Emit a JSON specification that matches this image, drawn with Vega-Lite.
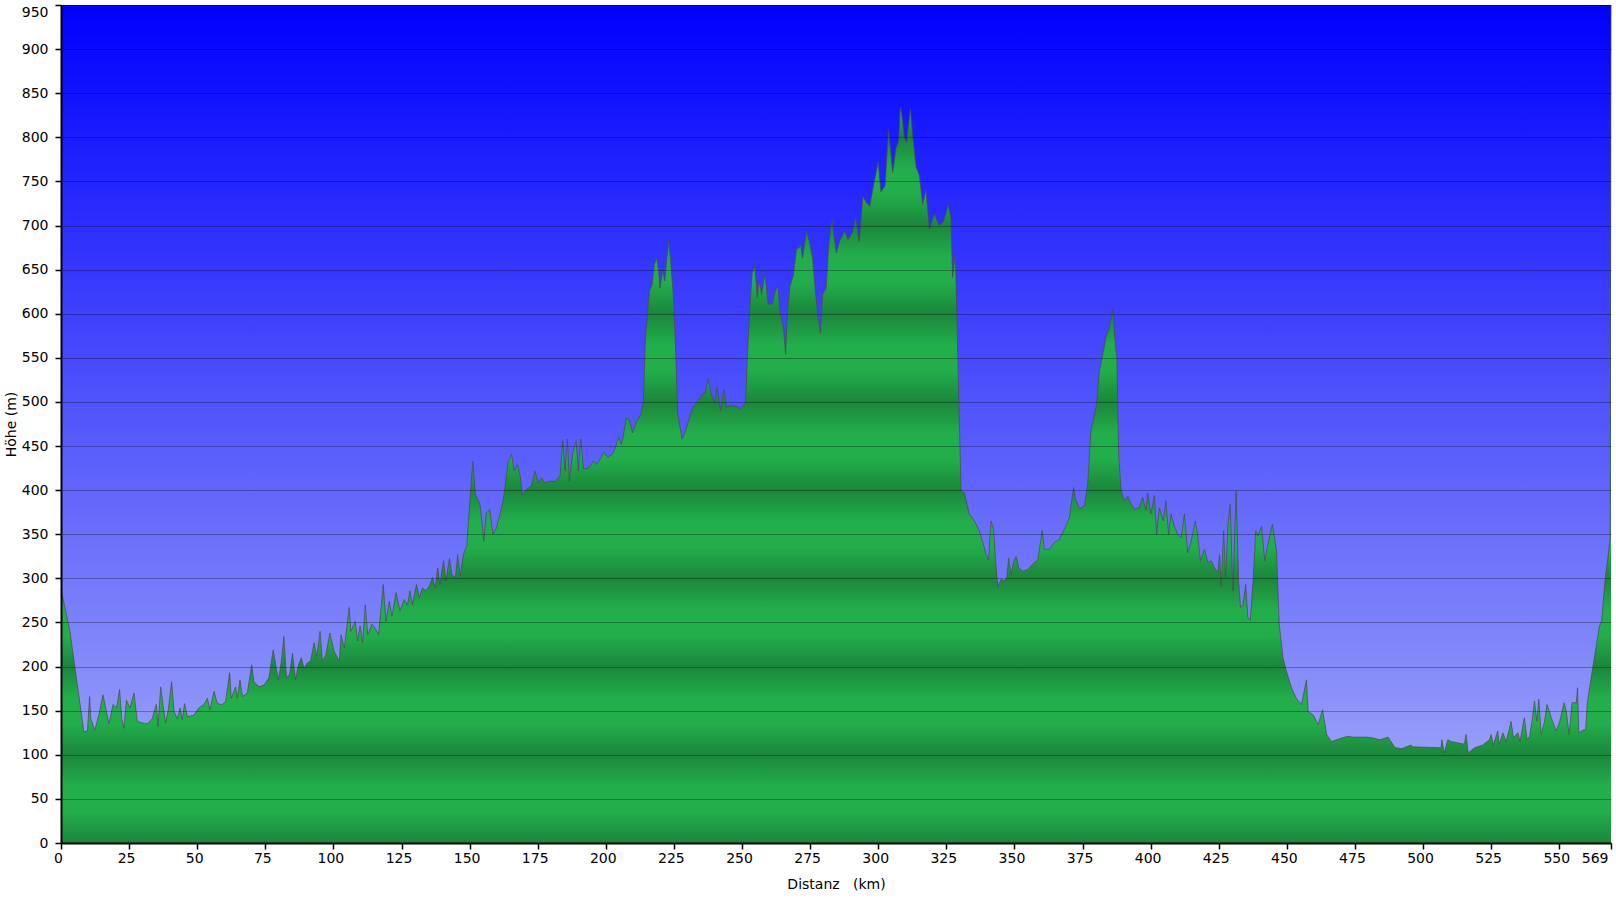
{
  "$schema": "https://vega.github.io/schema/vega-lite/v6.json",
  "width": 1550,
  "height": 838,
  "autosize": {"type": "none"},
  "padding": {"left": 61, "top": 5, "right": 5, "bottom": 60},
  "background": "white",
  "config": {
    "font": "DejaVu Sans",
    "view": {
      "stroke": null,
      "fill": {"gradient": "linear", "x1": 0, "y1": 0, "x2": 0, "y2": 1,
        "stops": [{"offset": 0, "color": "#0000ff"}, {"offset": 1, "color": "#a8b0f8"}]}
    }
  },
  "data": {"values": [
    {"km":0,"h":288},{"km":3.3,"h":240},{"km":4.8,"h":206},{"km":8.4,"h":126},{"km":9.7,"h":127},{"km":10.5,"h":166},{"km":10.9,"h":141},{"km":12.4,"h":128},{"km":13.9,"h":145},{"km":15.4,"h":168},{"km":16.4,"h":153},{"km":17.6,"h":135},{"km":19.1,"h":157},{"km":20.4,"h":153},{"km":21.5,"h":174},{"km":22.3,"h":141},{"km":23.1,"h":130},{"km":24,"h":162},{"km":25.3,"h":153},{"km":26.8,"h":170},{"km":28,"h":138},{"km":29.8,"h":136},{"km":31.7,"h":135},{"km":33.5,"h":141},{"km":35,"h":157},{"km":35.6,"h":132},{"km":36.6,"h":177},{"km":37.6,"h":153},{"km":38.4,"h":136},{"km":39.4,"h":151},{"km":40.6,"h":183},{"km":41.5,"h":149},{"km":42.7,"h":141},{"km":43.7,"h":153},{"km":44.5,"h":140},{"km":45.4,"h":158},{"km":46.4,"h":143},{"km":48.8,"h":145},{"km":50.6,"h":153},{"km":52.5,"h":157},{"km":53.7,"h":164},{"km":54.7,"h":151},{"km":56.2,"h":172},{"km":57.4,"h":158},{"km":59.2,"h":157},{"km":60.4,"h":160},{"km":61.9,"h":193},{"km":62.5,"h":164},{"km":64.1,"h":177},{"km":64.7,"h":164},{"km":65.7,"h":185},{"km":66.6,"h":166},{"km":68.4,"h":170},{"km":70,"h":202},{"km":70.8,"h":183},{"km":72.7,"h":177},{"km":74.5,"h":179},{"km":76.3,"h":187},{"km":77.9,"h":219},{"km":78.8,"h":202},{"km":79.8,"h":185},{"km":80.9,"h":206},{"km":81.8,"h":234},{"km":82.8,"h":187},{"km":83.9,"h":191},{"km":85,"h":215},{"km":86.1,"h":185},{"km":87,"h":200},{"km":88.2,"h":210},{"km":89.2,"h":198},{"km":90.4,"h":204},{"km":91.6,"h":206},{"km":92.9,"h":227},{"km":93.9,"h":211},{"km":95.1,"h":240},{"km":96,"h":206},{"km":97.2,"h":213},{"km":98.7,"h":238},
    {"km":100.3,"h":217},{"km":102.2,"h":206},{"km":102.8,"h":236},{"km":104,"h":221},{"km":105.8,"h":267},{"km":106.4,"h":240},{"km":108,"h":251},{"km":108.9,"h":229},{"km":109.8,"h":246},{"km":110.7,"h":227},{"km":111.7,"h":270},{"km":112.6,"h":236},{"km":114.2,"h":248},{"km":115.6,"h":242},{"km":116.6,"h":236},{"km":117.5,"h":267},{"km":118.3,"h":293},{"km":119.3,"h":251},{"km":120.5,"h":274},{"km":121.5,"h":257},{"km":123,"h":284},{"km":124.4,"h":263},{"km":126,"h":276},{"km":127.2,"h":270},{"km":128.1,"h":286},{"km":129,"h":270},{"km":130.5,"h":293},{"km":131.5,"h":278},{"km":132.7,"h":289},{"km":133.9,"h":286},{"km":135.2,"h":291},{"km":136.4,"h":301},{"km":137.4,"h":289},{"km":138.3,"h":312},{"km":139.1,"h":293},{"km":140.4,"h":320},{"km":141.3,"h":297},{"km":142.6,"h":323},{"km":143.5,"h":304},{"km":144.8,"h":301},{"km":145.6,"h":327},{"km":146.6,"h":303},{"km":147.7,"h":327},{"km":149,"h":337},{"km":150,"h":384},{"km":151.2,"h":433},{"km":152.1,"h":395},{"km":153.1,"h":389},{"km":153.9,"h":382},{"km":155.2,"h":342},{"km":156.1,"h":374},{"km":157.4,"h":378},{"km":158.6,"h":350},{"km":159.8,"h":357},{"km":161.1,"h":372},{"km":162.3,"h":388},{"km":162.9,"h":401},{"km":164.1,"h":431},{"km":165.4,"h":441},{"km":166.4,"h":422},{"km":167.5,"h":429},{"km":168.5,"h":418},{"km":169.4,"h":395},{"km":170.9,"h":401},{"km":172.7,"h":405},{"km":174,"h":422},{"km":175.2,"h":408},{"km":176.4,"h":414},{"km":177.7,"h":408},{"km":179.5,"h":410},{"km":181.3,"h":410},{"km":183.2,"h":416},{"km":184.2,"h":456},{"km":185,"h":422},{"km":185.9,"h":458},{"km":186.6,"h":410},{"km":187.8,"h":441},{"km":189.1,"h":456},{"km":189.9,"h":422},{"km":190.8,"h":458},{"km":191.8,"h":424},{"km":193.7,"h":425},{"km":195.5,"h":433},{"km":196.7,"h":429},
    {"km":199.4,"h":443},{"km":200.7,"h":437},{"km":202.5,"h":441},{"km":203.7,"h":450},{"km":204.7,"h":460},{"km":205.6,"h":452},{"km":206.4,"h":460},{"km":207.4,"h":482},{"km":208.6,"h":480},{"km":209.8,"h":465},{"km":211.3,"h":478},{"km":212.9,"h":486},{"km":213.8,"h":501},{"km":214.5,"h":569},{"km":215.4,"h":603},{"km":216,"h":626},{"km":217,"h":633},{"km":217.8,"h":656},{"km":218.7,"h":663},{"km":219.4,"h":648},{"km":219.9,"h":629},{"km":220.9,"h":650},{"km":221.6,"h":637},{"km":223.1,"h":684},{"km":224,"h":652},{"km":224.8,"h":620},{"km":225.6,"h":561},{"km":226.4,"h":486},{"km":228,"h":458},{"km":229.3,"h":467},{"km":230.5,"h":480},{"km":232,"h":494},{"km":233.8,"h":501},{"km":235.7,"h":509},{"km":236.7,"h":511},{"km":237.5,"h":526},{"km":238.7,"h":509},{"km":240,"h":499},{"km":240.8,"h":516},{"km":242.1,"h":490},{"km":243.3,"h":514},{"km":244.3,"h":494},{"km":246.1,"h":496},{"km":248,"h":495},{"km":249.4,"h":492},{"km":251.3,"h":499},{"km":251.9,"h":546},{"km":252.9,"h":607},{"km":253.7,"h":646},{"km":254.7,"h":654},{"km":255.6,"h":618},{"km":256.3,"h":637},{"km":257.2,"h":622},{"km":258.4,"h":645},{"km":259.6,"h":611},{"km":261.2,"h":611},{"km":262.1,"h":624},{"km":263.1,"h":632},{"km":264.1,"h":599},{"km":265.2,"h":584},{"km":266,"h":554},{"km":266.7,"h":603},{"km":267.6,"h":631},{"km":268.8,"h":643},{"km":270,"h":673},{"km":271,"h":675},{"km":271.6,"h":678},{"km":272.2,"h":663},{"km":273.7,"h":694},{"km":274.7,"h":682},{"km":275.9,"h":663},{"km":276.9,"h":626},{"km":277.8,"h":599},{"km":278.8,"h":578},{"km":279.6,"h":622},{"km":280.9,"h":629},{"km":281.9,"h":680},{"km":283,"h":707},{"km":283.7,"h":690},{"km":284.6,"h":669},{"km":285.8,"h":682},{"km":287.7,"h":694},{"km":288.9,"h":684},{"km":290.5,"h":692},{"km":291.7,"h":709},{"km":293,"h":682},{"km":294.4,"h":733},{"km":295.6,"h":726},{"km":296.9,"h":722},
    {"km":298.6,"h":751},{"km":300,"h":772},{"km":301,"h":738},{"km":302.5,"h":745},{"km":303.8,"h":808},{"km":305.3,"h":760},{"km":306.5,"h":787},{"km":307.5,"h":796},{"km":308.1,"h":834},{"km":308.7,"h":825},{"km":309.6,"h":800},{"km":310.4,"h":794},{"km":311.8,"h":832},{"km":312.6,"h":804},{"km":313.9,"h":766},{"km":315.1,"h":757},{"km":316.3,"h":724},{"km":317.5,"h":740},{"km":318.8,"h":696},{"km":320.6,"h":713},{"km":322.4,"h":700},{"km":323.9,"h":704},{"km":325.7,"h":723},{"km":326.7,"h":709},{"km":327.3,"h":641},{"km":328.3,"h":668},{"km":328.8,"h":607},{"km":329.5,"h":513},{"km":330.4,"h":399},{"km":331.6,"h":397},{"km":333.4,"h":373},{"km":335.3,"h":365},{"km":337.1,"h":354},{"km":338.3,"h":342},{"km":339.6,"h":327},{"km":340.5,"h":321},{"km":341.4,"h":365},{"km":342.3,"h":357},{"km":343,"h":323},{"km":343.9,"h":290},{"km":345.1,"h":299},{"km":346.3,"h":297},{"km":347.2,"h":301},{"km":347.9,"h":323},{"km":348.8,"h":304},{"km":349.6,"h":318},{"km":350.6,"h":325},{"km":351.6,"h":312},{"km":353,"h":308},{"km":354.9,"h":310},{"km":356.7,"h":316},{"km":358.6,"h":321},{"km":360.2,"h":354},{"km":361,"h":333},{"km":362.9,"h":333},{"km":364.7,"h":341},{"km":366.5,"h":344},{"km":368.4,"h":356},{"km":370.2,"h":369},{"km":371.7,"h":403},{"km":372.4,"h":390},{"km":373.9,"h":379},{"km":375.7,"h":382},{"km":376.9,"h":407},{"km":378.1,"h":467},{"km":380,"h":494},{"km":381.2,"h":535},{"km":382.2,"h":550},{"km":383.6,"h":573},{"km":384.9,"h":584},{"km":386.1,"h":605},{"km":387.1,"h":562},{"km":387.6,"h":550},{"km":388.3,"h":437},{"km":389.2,"h":399},{"km":390.4,"h":388},{"km":391.6,"h":393},{"km":392.9,"h":384},{"km":394.1,"h":378},
    {"km":395.8,"h":380},{"km":397.1,"h":392},{"km":398.3,"h":377},{"km":398.9,"h":397},{"km":400.1,"h":373},{"km":401.4,"h":394},{"km":402.2,"h":350},{"km":403.2,"h":380},{"km":404.7,"h":365},{"km":405.6,"h":388},{"km":406.6,"h":350},{"km":407.5,"h":373},{"km":408.7,"h":359},{"km":409.9,"h":350},{"km":411.2,"h":346},{"km":412.4,"h":373},{"km":413.6,"h":329},{"km":414.8,"h":341},{"km":416.4,"h":365},{"km":417.3,"h":348},{"km":418.3,"h":320},{"km":419.8,"h":333},{"km":421,"h":318},{"km":422.2,"h":320},{"km":423.5,"h":312},{"km":424.7,"h":306},{"km":425.3,"h":327},{"km":425.9,"h":291},{"km":426.8,"h":354},{"km":427.5,"h":301},{"km":428.4,"h":361},{"km":429.2,"h":384},{"km":430.2,"h":286},{"km":431.4,"h":399},{"km":432.3,"h":297},{"km":433,"h":267},{"km":433.9,"h":270},{"km":434.9,"h":293},{"km":435.7,"h":255},{"km":436.6,"h":253},{"km":437.6,"h":297},{"km":438.6,"h":354},{"km":439.4,"h":348},{"km":440.7,"h":359},{"km":441.9,"h":320},{"km":443.1,"h":339},{"km":444.7,"h":361},{"km":446.2,"h":331},{"km":447.2,"h":248},{"km":448.6,"h":210},{"km":449.8,"h":195},{"km":451.7,"h":176},{"km":453.5,"h":164},{"km":455.4,"h":157},{"km":457.2,"h":185},{"km":457.8,"h":149},{"km":459.7,"h":145},{"km":461.5,"h":134},{"km":463.1,"h":151},{"km":464.6,"h":123},{"km":466.4,"h":115},{"km":468.3,"h":117},{"km":470.1,"h":119},{"km":472.5,"h":121},{"km":474.4,"h":120},{"km":479.3,"h":120},{"km":481.7,"h":119},{"km":484.2,"h":117},{"km":487.2,"h":120},{"km":489.7,"h":108},{"km":492.2,"h":107},
    {"km":495.6,"h":111},{"km":496.2,"h":109},{"km":506.6,"h":108},{"km":506.9,"h":117},{"km":507.8,"h":102},{"km":509.1,"h":117},{"km":510.3,"h":115},{"km":515.2,"h":112},{"km":515.8,"h":123},{"km":516.6,"h":102},{"km":518.9,"h":108},{"km":521.9,"h":111},{"km":524.4,"h":117},{"km":525,"h":123},{"km":525.8,"h":111},{"km":527.4,"h":127},{"km":528,"h":112},{"km":529.3,"h":125},{"km":530.5,"h":115},{"km":531.5,"h":127},{"km":532.3,"h":138},{"km":533.2,"h":119},{"km":534.8,"h":125},{"km":535.6,"h":115},{"km":536.6,"h":132},{"km":537.2,"h":142},{"km":538.2,"h":117},{"km":539.1,"h":121},{"km":540,"h":138},{"km":540.9,"h":161},{"km":541.8,"h":138},{"km":542.5,"h":163},{"km":543.4,"h":123},{"km":544.6,"h":138},{"km":545.5,"h":157},{"km":547.1,"h":142},{"km":548.9,"h":127},{"km":550.2,"h":138},{"km":551.8,"h":159},{"km":552.6,"h":149},{"km":553.6,"h":123},{"km":554.7,"h":159},{"km":556.3,"h":159},{"km":556.7,"h":176},{"km":557.2,"h":125},{"km":558.8,"h":128},{"km":559.7,"h":128},{"km":560.3,"h":159},{"km":561.9,"h":191},{"km":563.7,"h":225},{"km":564.6,"h":244},{"km":565.6,"h":252},{"km":566.8,"h":297},{"km":568,"h":327},{"km":568.7,"h":345},{"km":569,"h":950}
  ]},
  "mark": {
    "type": "area",
    "interpolate": "linear",
    "opacity": 1,
    "fillOpacity": 1,
    "color": {"gradient": "linear", "x1": 0, "y1": 0, "x2": 0, "y2": 1, "stops": [
      {"offset": 0, "color": "#22ae4b"}, {"offset": 0.01579, "color": "#22ae4b"}, {"offset": 0.05263, "color": "#1b863b"},
      {"offset": 0.08947, "color": "#22ae4b"}, {"offset": 0.12105, "color": "#22ae4b"}, {"offset": 0.15789, "color": "#1b863b"},
      {"offset": 0.19474, "color": "#22ae4b"}, {"offset": 0.22632, "color": "#22ae4b"}, {"offset": 0.26316, "color": "#1b863b"},
      {"offset": 0.3, "color": "#22ae4b"}, {"offset": 0.33158, "color": "#22ae4b"}, {"offset": 0.36842, "color": "#1b863b"},
      {"offset": 0.40526, "color": "#22ae4b"}, {"offset": 0.43684, "color": "#22ae4b"}, {"offset": 0.47368, "color": "#1b863b"},
      {"offset": 0.51053, "color": "#22ae4b"}, {"offset": 0.54211, "color": "#22ae4b"}, {"offset": 0.57895, "color": "#1b863b"},
      {"offset": 0.61579, "color": "#22ae4b"}, {"offset": 0.64737, "color": "#22ae4b"}, {"offset": 0.68421, "color": "#1b863b"},
      {"offset": 0.72105, "color": "#22ae4b"}, {"offset": 0.75263, "color": "#22ae4b"}, {"offset": 0.78947, "color": "#1b863b"},
      {"offset": 0.82632, "color": "#22ae4b"}, {"offset": 0.85789, "color": "#22ae4b"}, {"offset": 0.89474, "color": "#1b863b"},
      {"offset": 0.93158, "color": "#22ae4b"}, {"offset": 0.96316, "color": "#22ae4b"}, {"offset": 1, "color": "#1b863b"}
    ]},
    "line": {"color": "#4a4a4a", "strokeWidth": 1, "strokeOpacity": 0.7}
  },
  "encoding": {
    "x": {
      "field": "km", "type": "quantitative",
      "scale": {"domain": [0, 569], "nice": false, "zero": false},
      "title": "Distanz \u00a0 (km)",
      "axis": {
        "values": [0, 25, 50, 75, 100, 125, 150, 175, 200, 225, 250, 275, 300, 325, 350, 375, 400, 425, 450, 475, 500, 525, 550, 569],
        "grid": false,
        "domainColor": "#000000", "domainWidth": 2,
        "tickColor": "#000000", "tickSize": 6, "tickWidth": 1.5,
        "labelColor": "#000000", "labelFontSize": 14, "labelPadding": 2, "labelOffset": -3,
        "labelAlign": {"condition": {"test": "datum.value == 569", "value": "right"}, "value": "center"},
        "labelOverlap": false,
        "titleFontSize": 14, "titleFontWeight": "normal", "titleColor": "#000000", "titlePadding": 12,
        "zindex": 1
      }
    },
    "y": {
      "field": "h", "type": "quantitative",
      "scale": {"domain": [0, 950], "nice": false},
      "title": "Höhe (m)",
      "axis": {
        "values": [0, 50, 100, 150, 200, 250, 300, 350, 400, 450, 500, 550, 600, 650, 700, 750, 800, 850, 900, 950],
        "grid": true, "gridColor": "#000000", "gridOpacity": 0.3, "gridWidth": 1,
        "domainColor": "#000000", "domainWidth": 2,
        "tickColor": "#000000", "tickSize": 6, "tickWidth": 1.5,
        "labelColor": "#000000", "labelFontSize": 14, "labelPadding": 7,
        "labelBaseline": {"condition": {"test": "datum.value == 950", "value": "top"}, "value": "middle"},
        "labelOverlap": false,
        "titleFontSize": 14, "titleFontWeight": "normal", "titleColor": "#000000",
        "titleX": -46, "titleY": 419, "titleAngle": 270, "titleAlign": "center", "titleBaseline": "alphabetic",
        "zindex": 1
      }
    }
  }
}
